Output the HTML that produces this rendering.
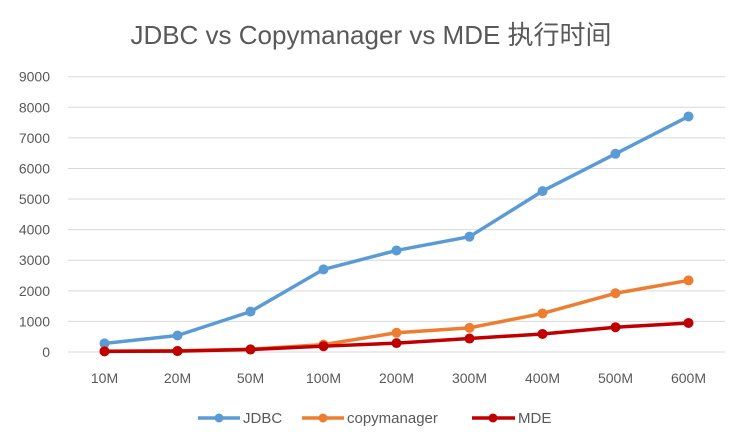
<!DOCTYPE html>
<html><head><meta charset="utf-8"><style>
body{margin:0;background:#fff;}
svg text{font-family:"Liberation Sans","Noto Sans CJK SC",sans-serif;}
</style></head><body>
<svg id="chart" width="732" height="436" xmlns="http://www.w3.org/2000/svg">
<rect width="732" height="436" fill="#fff"/>
<text x="371" y="44" text-anchor="middle" font-size="26" fill="#595959">JDBC vs Copymanager vs MDE 执行时间</text>
<g id="grid"></g><g id="xlabels"></g><g id="series"></g>
<g>
<g><line x1="198" y1="418" x2="240" y2="418" stroke="#5b9bd5" stroke-width="3.5"/><circle cx="219" cy="418" r="4.5" fill="#5b9bd5"/><text x="243" y="423" font-size="15" fill="#595959">JDBC</text></g>
<g><line x1="302" y1="418" x2="344" y2="418" stroke="#ed7d31" stroke-width="3.5"/><circle cx="323" cy="418" r="4.5" fill="#ed7d31"/><text x="347" y="423" font-size="15" fill="#595959">copymanager</text></g>
<g><line x1="472" y1="418" x2="515" y2="418" stroke="#c00000" stroke-width="3.5"/><circle cx="493" cy="418" r="4.5" fill="#c00000"/><text x="518" y="423" font-size="15" fill="#595959">MDE</text></g>
</g>
</svg>
<script>
const categories=["10M","20M","50M","100M","200M","300M","400M","500M","600M"];
const jdbc=[280,540,1320,2700,3320,3770,5260,6480,7700];
const copymanager=[30,40,90,240,630,790,1260,1920,2340];
const mde=[20,30,80,190,290,440,590,810,950];
const yTicks=[0,1000,2000,3000,4000,5000,6000,7000,8000,9000];
const NS="http://www.w3.org/2000/svg";
const x0=68,step=73,yBase=352,yTop=76.7,yMax=9000;
const xs=i=>x0+step*(i+0.5);
const ys=v=>yBase-(v/yMax)*(yBase-yTop);
function mk(t,a,p){const e=document.createElementNS(NS,t);for(const k in a)e.setAttribute(k,a[k]);p.appendChild(e);return e;}
const grid=document.getElementById('grid');
yTicks.forEach(v=>{
 const l=mk('line',{x1:x0,x2:x0+step*9,y1:ys(v),y2:ys(v),stroke:'#d9d9d9','stroke-width':1},grid);
 
 
 const t=mk('text',{x:50,y:ys(v)+5,'text-anchor':'end','font-size':14,fill:'#595959'},grid);
 t.textContent=v;
 
 
});
const xl=document.getElementById('xlabels');
categories.forEach((c,i)=>{
 const t=mk('text',{x:xs(i),y:383,'text-anchor':'middle','font-size':14,fill:'#595959'},xl);
 t.textContent=c;
 
 
});
const sg=document.getElementById('series');
[[jdbc,'#5b9bd5','jdbc'],[copymanager,'#ed7d31','copymanager'],[mde,'#c00000','mde']].forEach(([d,col,n])=>{
 const g=mk('g',{},sg);
 
 
 const p=mk('polyline',{points:d.map((v,i)=>xs(i)+','+ys(v)).join(' '),fill:'none',stroke:col,'stroke-width':3.5,'stroke-linejoin':'round'},g);
 
 
 d.forEach((v,i)=>{
  const c=mk('circle',{cx:xs(i),cy:ys(v),r:5,fill:col},g);
  
  
 });
});
</script>
</body></html>
